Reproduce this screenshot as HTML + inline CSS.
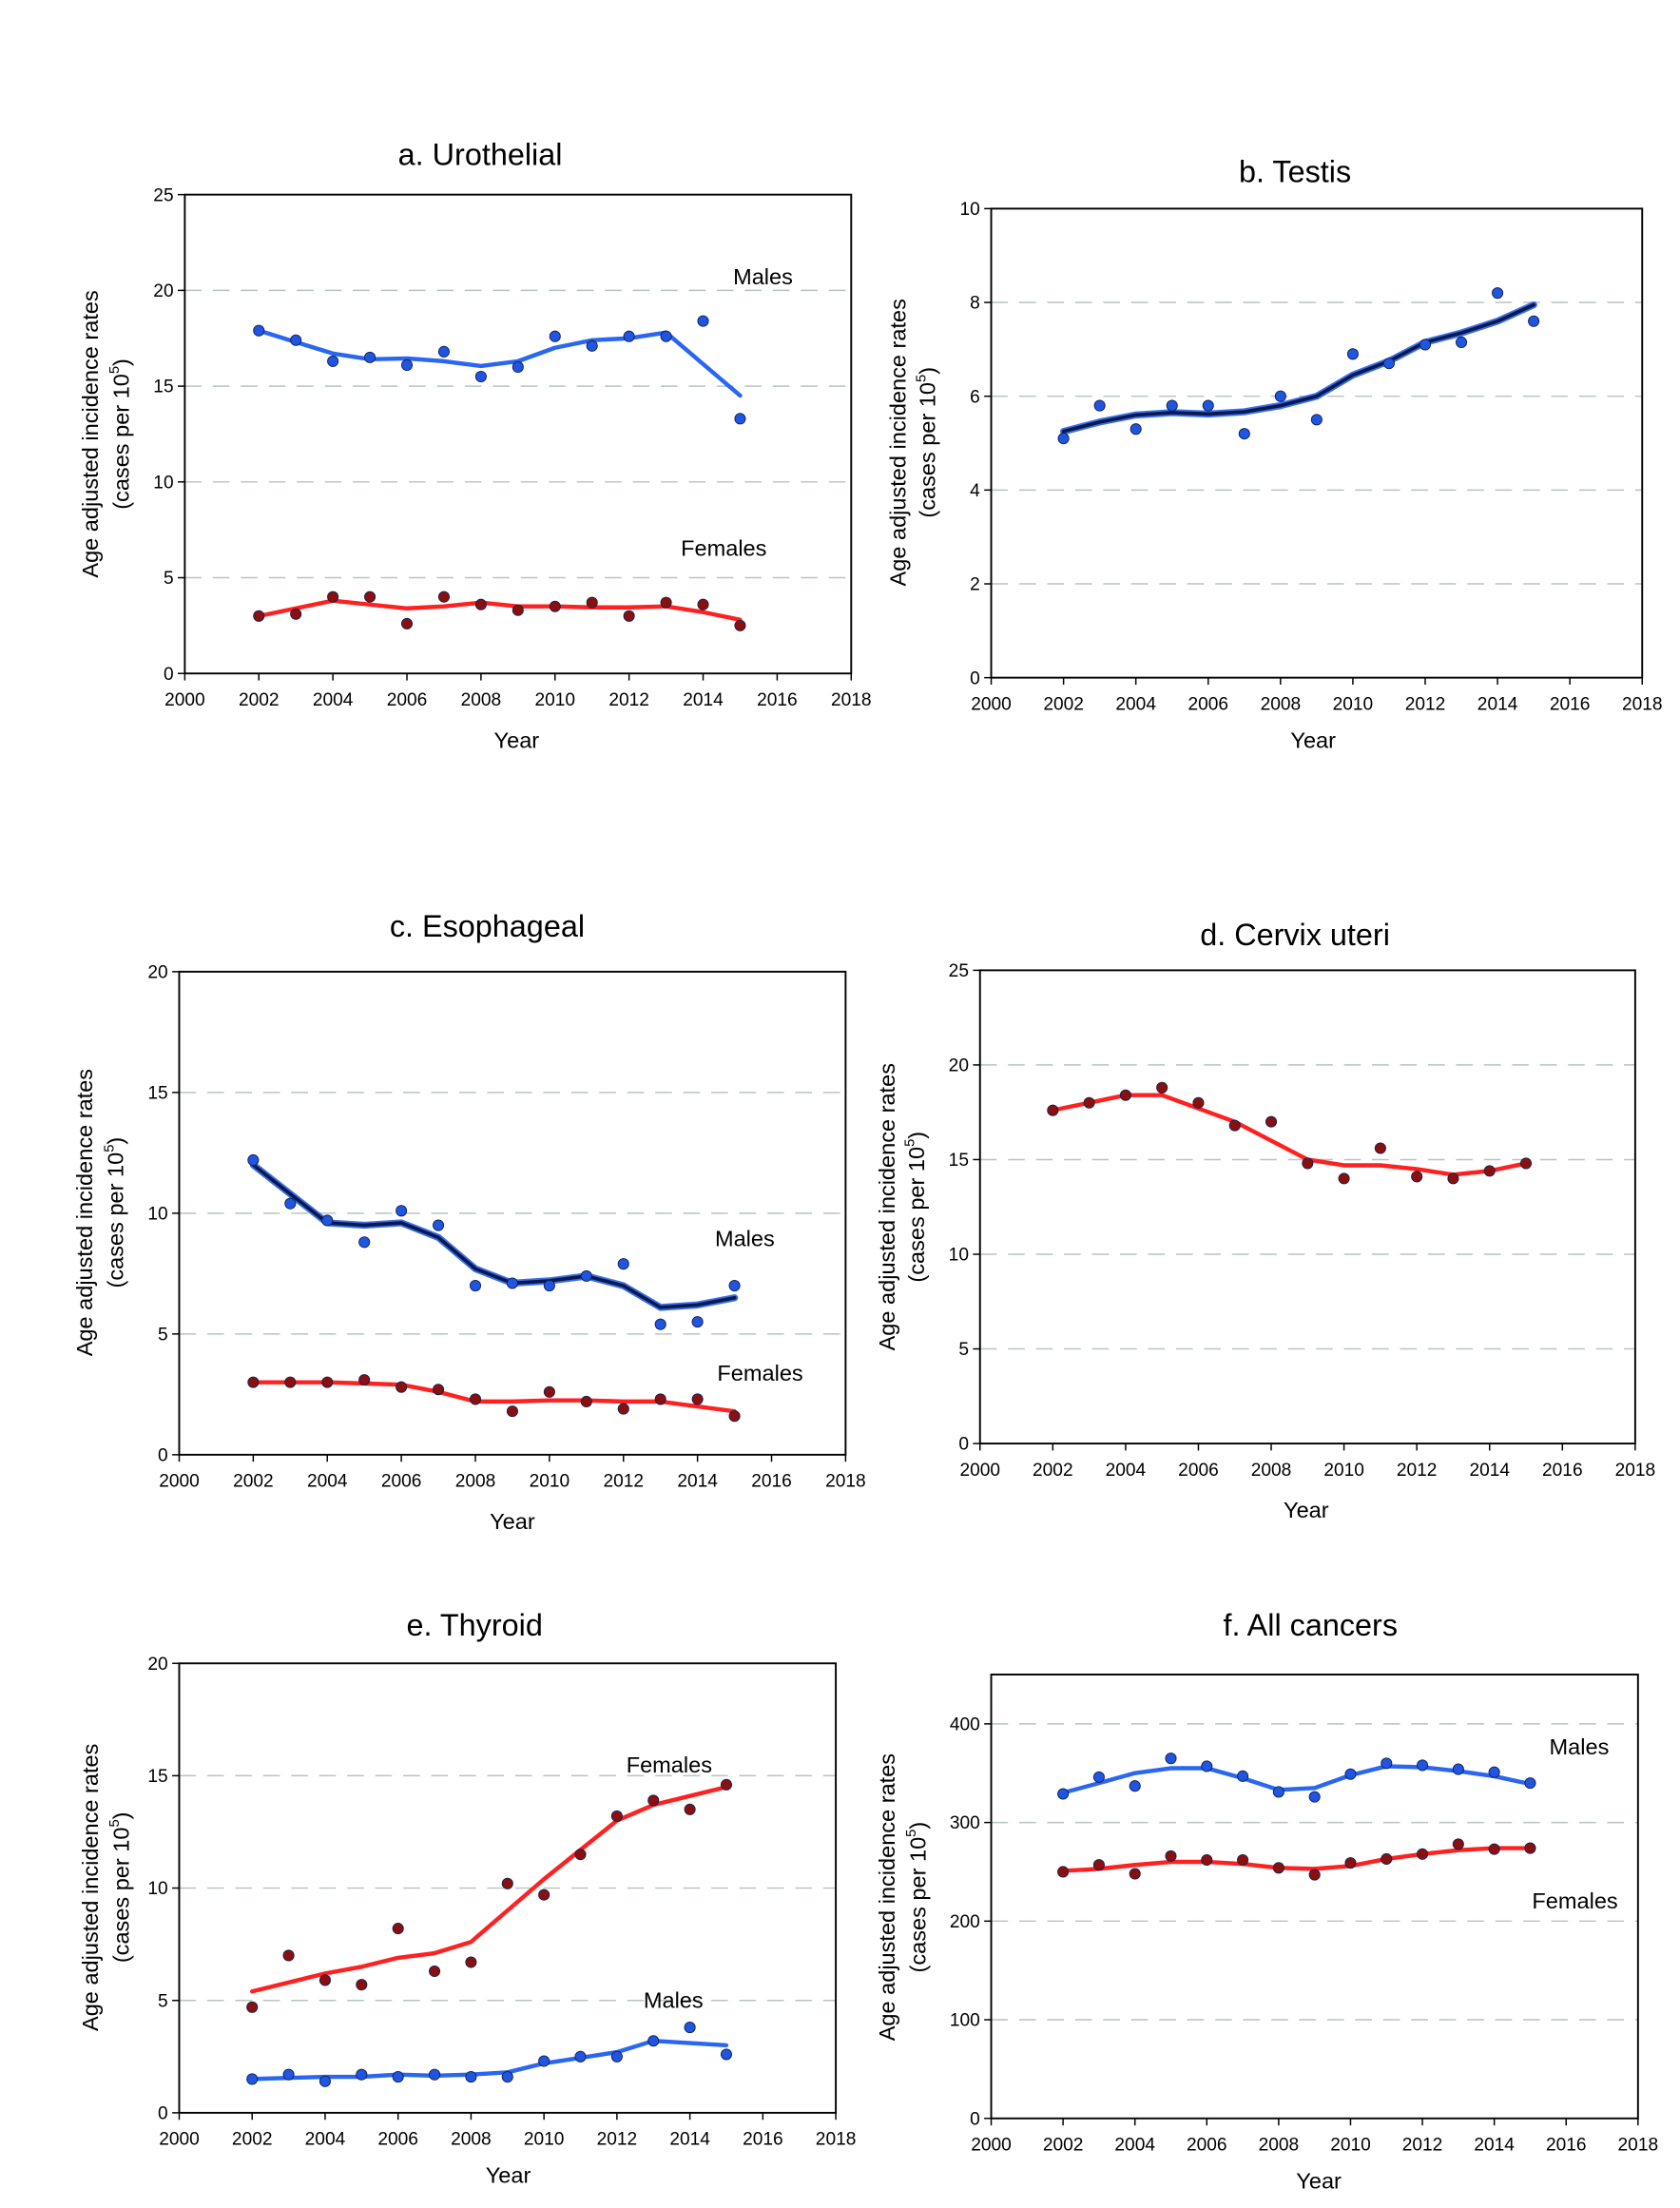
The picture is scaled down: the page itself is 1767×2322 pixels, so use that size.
<!DOCTYPE html>
<html><head><meta charset="utf-8"><style>
html,body{margin:0;padding:0;background:#fff}
svg{display:block}
text{font-family:"Liberation Sans",sans-serif;fill:#000}
</style></head><body>
<svg id="s" width="1767" height="2322" viewBox="0 0 1200 1577" preserveAspectRatio="none" xmlns="http://www.w3.org/2000/svg">
<g id="g"></g>
<g font-size="22" text-anchor="middle">
<text x="343" y="118">a. Urothelial</text>
<text x="925" y="130">b. Testis</text>
<text x="348" y="669">c. Esophageal</text>
<text x="925" y="675">d. Cervix uteri</text>
<text x="339" y="1168">e. Thyroid</text>
<text x="936" y="1168">f. All cancers</text>
</g>
<g font-size="16" text-anchor="middle">
<text x="369" y="534">Year</text>
<text x="938" y="534">Year</text>
<text x="366" y="1092">Year</text>
<text x="933" y="1084">Year</text>
<text x="363" y="1559">Year</text>
<text x="942" y="1563">Year</text>
<text x="545" y="203">Males</text>
<text x="517" y="397">Females</text>
<text x="532" y="890">Males</text>
<text x="543" y="986">Females</text>
<text x="478" y="1266">Females</text>
<text x="481" y="1434">Males</text>
<text x="1128" y="1253">Males</text>
<text x="1125" y="1363">Females</text>
</g>
<g font-size="16" text-anchor="middle">
<text transform="translate(70,310) rotate(-90)">Age adjusted incidence rates</text>
<text transform="translate(92,310) rotate(-90)">(cases per 10<tspan font-size="10" dy="-7">5</tspan><tspan dy="7">)</tspan></text>
<text transform="translate(647,316) rotate(-90)">Age adjusted incidence rates</text>
<text transform="translate(668,316) rotate(-90)">(cases per 10<tspan font-size="10" dy="-7">5</tspan><tspan dy="7">)</tspan></text>
<text transform="translate(66,866) rotate(-90)">Age adjusted incidence rates</text>
<text transform="translate(88,866) rotate(-90)">(cases per 10<tspan font-size="10" dy="-7">5</tspan><tspan dy="7">)</tspan></text>
<text transform="translate(639,862) rotate(-90)">Age adjusted incidence rates</text>
<text transform="translate(660,862) rotate(-90)">(cases per 10<tspan font-size="10" dy="-7">5</tspan><tspan dy="7">)</tspan></text>
<text transform="translate(70,1348) rotate(-90)">Age adjusted incidence rates</text>
<text transform="translate(92,1348) rotate(-90)">(cases per 10<tspan font-size="10" dy="-7">5</tspan><tspan dy="7">)</tspan></text>
<text transform="translate(639,1355) rotate(-90)">Age adjusted incidence rates</text>
<text transform="translate(661,1355) rotate(-90)">(cases per 10<tspan font-size="10" dy="-7">5</tspan><tspan dy="7">)</tspan></text>
</g>
</svg>
<script>
var NS="http://www.w3.org/2000/svg",G=document.getElementById("g");
function el(t,a,txt){var e=document.createElementNS(NS,t);for(var k in a)e.setAttribute(k,a[k]);if(txt!=null)e.textContent=txt;G.appendChild(e);return e;}
var B="#2a66f0",R="#ff2020",NV="#0a1850",DB="#1f55e0",DR="#8a1010";
var P=[
{x0:132,x1:608,y0:481,y1:139,ymax:25,step:5,
 s:[{p:[17.9,17.4,16.3,16.5,16.1,16.8,15.5,16.0,17.6,17.1,17.6,17.6,18.4,13.3],l:[17.9,17.3,16.7,16.4,16.45,16.3,16.05,16.3,17.0,17.4,17.5,17.8,null,14.5],c:B,d:DB},
    {p:[3.0,3.1,4.0,4.0,2.6,4.0,3.6,3.3,3.5,3.7,3.0,3.7,3.6,2.5],l:[3.0,3.4,3.8,3.6,3.4,3.5,3.7,3.5,3.5,3.45,3.45,3.5,3.2,2.8],c:R,d:DR}]},
{x0:708,x1:1173,y0:484,y1:149,ymax:10,step:2,
 s:[{p:[5.1,5.8,5.3,5.8,5.8,5.2,6.0,5.5,6.9,6.7,7.1,7.15,8.2,7.6],l:[5.25,5.45,5.6,5.65,5.62,5.67,5.8,6.0,6.45,6.75,7.15,7.35,7.6,7.95],c:NV,d:DB,h:1}]},
{x0:128,x1:604,y0:1039,y1:694,ymax:20,step:5,
 s:[{p:[12.2,10.4,9.7,8.8,10.1,9.5,7.0,7.1,7.0,7.4,7.9,5.4,5.5,7.0],l:[12.0,10.8,9.6,9.5,9.6,9.0,7.7,7.1,7.2,7.4,7.0,6.1,6.2,6.5],c:NV,d:DB,h:1},
    {p:[3.0,3.0,3.0,3.1,2.8,2.7,2.3,1.8,2.6,2.2,1.9,2.3,2.3,1.6],l:[3.0,3.0,3.0,2.95,2.9,2.6,2.2,2.2,2.25,2.25,2.2,2.2,2.0,1.8],c:R,d:DR}]},
{x0:700,x1:1168,y0:1031,y1:693,ymax:25,step:5,
 s:[{p:[17.6,18.0,18.4,18.8,18.0,16.8,17.0,14.8,14.0,15.6,14.1,14.0,14.4,14.8],l:[17.6,18.0,18.4,18.4,17.7,17.0,16.0,15.0,14.7,14.7,14.5,14.2,14.4,14.8],c:R,d:DR}]},
{x0:128,x1:597,y0:1509,y1:1188,ymax:20,step:5,
 s:[{p:[4.7,7.0,5.9,5.7,8.2,6.3,6.7,10.2,9.7,11.5,13.2,13.9,13.5,14.6],l:[5.4,5.8,6.2,6.5,6.9,7.1,7.6,9.0,10.4,11.7,13.0,13.7,14.1,14.5],c:R,d:DR},
    {p:[1.5,1.7,1.4,1.7,1.6,1.7,1.6,1.6,2.3,2.5,2.5,3.2,3.8,2.6],l:[1.5,1.55,1.6,1.6,1.7,1.65,1.7,1.8,2.2,2.45,2.7,3.2,3.1,3.0],c:B,d:DB}]},
{x0:708,x1:1170,y0:1513,y1:1196,ymax:450,step:100,tmax:400,
 s:[{p:[329,346,337,365,357,347,331,326,349,360,358,354,351,340],l:[330,340,350,355,355,345,333,335,348,357,356,352,347,339],c:B,d:DB},
    {p:[250,257,248,266,262,262,254,247,259,263,268,278,273,274],l:[251,253,257,260,260,258,254,253,256,263,268,272,274,274],c:R,d:DR}]}
];
P.forEach(function(q){
 var X=function(yr){return q.x0+(yr-2000)*(q.x1-q.x0)/18},Y=function(v){return q.y0+v*(q.y1-q.y0)/q.ymax};
 var tm=q.tmax||q.ymax;
 for(var v=q.step;v<=tm;v+=q.step){if(v<q.ymax)el("line",{x1:q.x0,x2:q.x1,y1:Y(v),y2:Y(v),stroke:"#b8c4c0","stroke-width":1,"stroke-dasharray":"12,8"});}
 el("rect",{x:q.x0,y:q.y1,width:q.x1-q.x0,height:q.y0-q.y1,fill:"none",stroke:"#000","stroke-width":1.3});
 for(var v=0;v<=tm;v+=q.step){el("line",{x1:q.x0-5,x2:q.x0,y1:Y(v),y2:Y(v),stroke:"#000"});el("text",{x:q.x0-8,y:Y(v)+4.5,"text-anchor":"end","font-size":13},v);}
 for(var yr=2000;yr<=2018;yr+=2){el("line",{x1:X(yr),x2:X(yr),y1:q.y0,y2:q.y0+5,stroke:"#000"});el("text",{x:X(yr),y:q.y0+23,"text-anchor":"middle","font-size":13},yr);}
 q.s.forEach(function(s){
  var pts=[];s.l.forEach(function(v,i){if(v!=null)pts.push(X(2002+i).toFixed(1)+","+Y(v).toFixed(1));});
  var d="M"+pts.join("L");
  if(s.h)el("path",{d:d,fill:"none",stroke:"#3a70e8","stroke-width":5,"stroke-linejoin":"round","stroke-linecap":"round"});
  el("path",{d:d,fill:"none",stroke:s.c,"stroke-width":s.h?2.5:3,"stroke-linejoin":"round","stroke-linecap":"round"});
  s.p.forEach(function(v,i){el("circle",{cx:X(2002+i),cy:Y(v),r:3.8,fill:s.d,stroke:"#102050","stroke-width":0.6});});
 });
});
</script>
</body></html>
